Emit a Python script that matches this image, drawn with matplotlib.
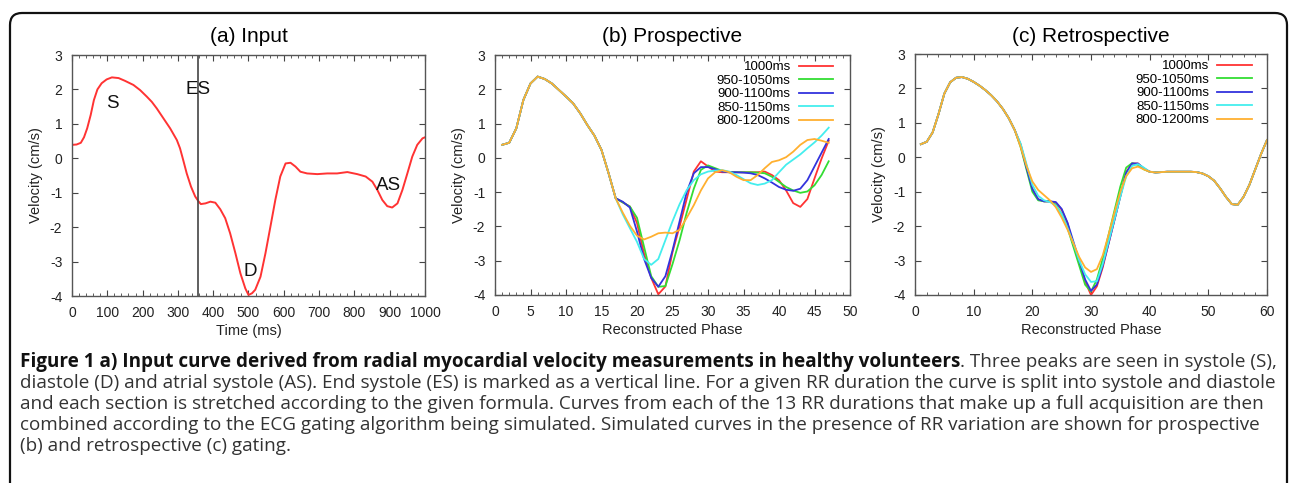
"""
Simulated radial myocardial velocity curves: input, prospective and retrospective gating.
"""

import matplotlib
matplotlib.use("Agg")
import matplotlib.pyplot as plt
from matplotlib.patches import FancyBboxPatch
from matplotlib.transforms import IdentityTransform
from matplotlib.ticker import MultipleLocator

plt.rcParams["font.family"] = ["Liberation Sans", "DejaVu Sans"]
plt.rcParams["axes.unicode_minus"] = False

# ---- (a) input curve -------------------------------------------------------
input_time = [0, 13, 25, 34, 43, 53, 62, 72, 84, 98, 113, 132, 150, 174, 193,
              212, 226, 240, 259, 278, 297, 306, 315, 325, 337, 349, 359, 365,
              378, 392, 406, 420, 434, 448, 463, 477, 491, 500, 510, 519, 534,
              548, 562, 576, 590, 605, 619, 633, 647, 666, 695, 723, 751, 780,
              808, 832, 851, 865, 879, 893, 907, 922, 936, 950, 964, 978, 993,
              1000]
input_vel = [0.39, 0.40, 0.45, 0.61, 0.87, 1.26, 1.69, 2.0, 2.18, 2.29, 2.35,
             2.33, 2.25, 2.13, 1.98, 1.79, 1.64, 1.45, 1.16, 0.87, 0.53, 0.29,
             -0.05, -0.44, -0.82, -1.11, -1.26, -1.33, -1.31, -1.26, -1.29,
             -1.48, -1.74, -2.18, -2.76, -3.34, -3.78, -3.97, -3.92, -3.82,
             -3.44, -2.76, -1.99, -1.21, -0.53, -0.15, -0.13, -0.24, -0.39,
             -0.44, -0.46, -0.44, -0.44, -0.40, -0.46, -0.53, -0.68, -0.92,
             -1.21, -1.39, -1.43, -1.31, -0.92, -0.44, 0.05, 0.39, 0.58, 0.61]
es_time = 358
peak_labels = ["S", "ES", "D", "AS"]
peak_x = [115, 358, 505, 898]
peak_y = [1.6, 2.0, -3.3, -0.78]

# ---- legend / colours ------------------------------------------------------
rr_labels = ["1000ms", "950-1050ms", "900-1100ms", "850-1150ms", "800-1200ms"]
rr_colors = ["#ff3333", "#33dd33", "#3333dd", "#44eeee", "#ffb030"]

# ---- (b) prospective: phases 1..47 -----------------------------------------
pro_phase = list(range(1, 48))
pro_head = [0.38, 0.44, 0.86, 1.69, 2.17, 2.37, 2.30, 2.17, 1.98, 1.79, 1.59,
            1.30, 0.96, 0.65, 0.23, -0.45]
pro_1000 = pro_head + [-1.18, -1.3, -1.42, -1.9, -2.8, -3.5, -3.98, -3.75, -2.75,
                       -2.0, -1.2, -0.4, -0.1, -0.25, -0.4, -0.42, -0.42, -0.42,
                       -0.42, -0.42, -0.42, -0.4, -0.5, -0.65, -0.95, -1.32,
                       -1.43, -1.2, -0.6, -0.02, 0.5]
pro_950 = pro_head + [-1.18, -1.3, -1.42, -1.75, -2.6, -3.45, -3.76, -3.74, -3.1,
                      -2.4, -1.6, -0.9, -0.35, -0.22, -0.3, -0.38, -0.42, -0.42,
                      -0.42, -0.42, -0.43, -0.45, -0.55, -0.7, -0.85, -0.95,
                      -1.02, -0.98, -0.8, -0.5, -0.1]
pro_900 = pro_head + [-1.18, -1.28, -1.45, -2.15, -2.95, -3.5, -3.76, -3.45, -2.7,
                      -1.85, -1.0, -0.45, -0.27, -0.27, -0.33, -0.4, -0.42, -0.42,
                      -0.43, -0.45, -0.5, -0.6, -0.72, -0.85, -0.93, -0.96, -0.9,
                      -0.65, -0.25, 0.15, 0.55]
pro_850 = pro_head + [-1.18, -1.65, -2.05, -2.45, -2.95, -3.12, -2.95, -2.4, -1.85,
                      -1.35, -0.94, -0.65, -0.48, -0.4, -0.37, -0.36, -0.4, -0.5,
                      -0.62, -0.74, -0.79, -0.75, -0.65, -0.42, -0.2, -0.05, 0.1,
                      0.28, 0.45, 0.65, 0.88]
pro_800 = pro_head + [-1.18, -1.6, -1.98, -2.27, -2.38, -2.3, -2.2, -2.18, -2.2,
                      -2.1, -1.75, -1.38, -0.95, -0.6, -0.42, -0.36, -0.42, -0.55,
                      -0.65, -0.65, -0.5, -0.3, -0.12, -0.07, 0.02, 0.18, 0.38,
                      0.52, 0.55, 0.5, 0.44]

# ---- (c) retrospective: phases 1..60 ---------------------------------------
retro_phase = list(range(1, 61))
retro_head = [0.38, 0.45, 0.72, 1.25, 1.85, 2.18, 2.31, 2.33, 2.28, 2.19, 2.08,
              1.95, 1.8, 1.62, 1.4, 1.13, 0.79]
retro_tail = [-0.42, -0.44, -0.43, -0.42, -0.42, -0.42, -0.42, -0.42, -0.43,
              -0.47, -0.55, -0.68, -0.9, -1.15, -1.36, -1.38, -1.15, -0.8, -0.35,
              0.1, 0.5]
retro_1000 = retro_head + [0.38, -0.25, -0.9, -1.22, -1.28, -1.28, -1.32, -1.52,
                           -1.92, -2.55, -3.05, -3.6, -4.0, -3.75, -3.2, -2.5,
                           -1.82, -1.13, -0.43, -0.18, -0.18, -0.33] + retro_tail
retro_950 = retro_head + [0.3, -0.35, -1.0, -1.25, -1.28, -1.28, -1.38, -1.65,
                          -2.05, -2.6, -3.15, -3.7, -3.9, -3.55, -2.95, -2.25,
                          -1.55, -0.85, -0.3, -0.17, -0.22, -0.35] + retro_tail
retro_900 = retro_head + [0.35, -0.3, -0.92, -1.22, -1.28, -1.28, -1.3, -1.5,
                          -1.9, -2.45, -3.0, -3.55, -3.88, -3.7, -3.15, -2.5,
                          -1.82, -1.13, -0.45, -0.18, -0.18, -0.32] + retro_tail
retro_850 = retro_head + [0.4, -0.2, -0.8, -1.12, -1.25, -1.3, -1.4, -1.65,
                          -2.05, -2.5, -3.0, -3.4, -3.62, -3.6, -3.1, -2.45,
                          -1.8, -1.15, -0.55, -0.25, -0.2, -0.3] + retro_tail
retro_800 = retro_head + [0.3, -0.25, -0.7, -0.95, -1.1, -1.25, -1.45, -1.75,
                          -2.1, -2.5, -2.9, -3.2, -3.33, -3.25, -2.85, -2.25,
                          -1.6, -1.0, -0.55, -0.32, -0.27, -0.35] + retro_tail

caption_bold = ("Figure 1 a) Input curve derived from radial myocardial velocity "
                "measurements in healthy volunteers")
caption_lines = [
    ". Three peaks are seen in systole (S),",
    "diastole (D) and atrial systole (AS). End systole (ES) is marked as a vertical "
    "line. For a given RR duration the curve is split into systole and diastole",
    "and each section is stretched according to the given formula. Curves from each "
    "of the 13 RR durations that make up a full acquisition are then",
    "combined according to the ECG gating algorithm being simulated. Simulated "
    "curves in the presence of RR variation are shown for prospective",
    "(b) and retrospective (c) gating.",
]

W, H = 1290, 483
fig = plt.figure(figsize=(W / 100, H / 100), dpi=100)


def px_axes(left, right, top, bottom):
    return fig.add_axes([left / W, 1 - bottom / H, (right - left) / W, (bottom - top) / H])


def style_axes(ax, xmax, xmajor, xminor, xlabel, title):
    ax.set_ylim(-4, 3)
    ax.set_xlim(0, xmax)
    ax.xaxis.set_major_locator(MultipleLocator(xmajor))
    ax.xaxis.set_minor_locator(MultipleLocator(xminor))
    ax.yaxis.set_major_locator(MultipleLocator(1))
    ax.tick_params(which="both", direction="in", top=True, right=True,
                   colors="#444444", labelcolor="#222222", labelsize=10, pad=7)
    ax.tick_params(which="major", length=4)
    ax.tick_params(which="minor", length=2)
    for sp in ax.spines.values():
        sp.set_color("#555555")
        sp.set_linewidth(1.0)
    ax.set_xlabel(xlabel, fontsize=10.5, color="#222222", labelpad=3)
    ax.set_ylabel("Velocity (cm/s)", fontsize=10.5, color="#222222", labelpad=5)
    ax.set_title(title, fontsize=15, pad=9)


# (a)
ax_a = px_axes(72, 425, 55, 296)
ax_a.plot(input_time, input_vel, color="#ff3333", lw=1.4)
ax_a.axvline(es_time, color="#444444", lw=1.2)
for lab, x, y in zip(peak_labels, peak_x, peak_y):
    ax_a.text(x, y, lab, fontsize=13.5, ha="center", va="center", color="#111111")
style_axes(ax_a, 1000, 100, 20, "Time (ms)", "(a) Input")

# (b)
ax_b = px_axes(495, 850, 55, 295)
for vals, col, lab in zip([pro_1000, pro_950, pro_900, pro_850, pro_800],
                          rr_colors, rr_labels):
    ax_b.plot(pro_phase, vals, color=col, lw=1.3, label=lab)
style_axes(ax_b, 50, 5, 1, "Reconstructed Phase", "(b) Prospective")

# (c)
ax_c = px_axes(915, 1267, 54, 295)
for vals, col, lab in zip([retro_1000, retro_950, retro_900, retro_850, retro_800],
                          rr_colors, rr_labels):
    ax_c.plot(retro_phase, vals, color=col, lw=1.3, label=lab)
style_axes(ax_c, 60, 10, 2, "Reconstructed Phase", "(c) Retrospective")

for ax, xa in ((ax_b, 0.952), (ax_c, 0.956)):
    ax.legend(loc="upper right", bbox_to_anchor=(xa, 0.975), frameon=False,
              markerfirst=False, fontsize=9.5, handlelength=2.6,
              labelspacing=0.1, borderaxespad=0.0, borderpad=0.0,
              handletextpad=0.6)

# rounded frame around the whole figure
frame = FancyBboxPatch((10, -30), 1277, H - 13 + 30,
                       boxstyle="round,pad=0,rounding_size=12",
                       transform=IdentityTransform(), fill=False,
                       edgecolor="#111111", lw=1.6)
fig.patches.append(frame)

# caption: font size fitted to the width of the original's second line
cap_font = ["Open Sans", "DejaVu Sans"]
cap_y = [362, 383, 404, 425, 446]
renderer = fig.canvas.get_renderer()
probe = fig.text(0, 0, caption_lines[1], family=cap_font, fontsize=10)
cap_size = 10 * 1258 / probe.get_window_extent(renderer).width
probe.remove()

t_bold = fig.text(20 / W, 1 - cap_y[0] / H, caption_bold, family=cap_font,
                  fontsize=cap_size, fontweight="bold", va="center", color="#111111")
bb = t_bold.get_window_extent(renderer)
fig.text(bb.x1 / W, 1 - cap_y[0] / H, caption_lines[0], family=cap_font,
         fontsize=cap_size, va="center", color="#333333")
for line, y in zip(caption_lines[1:], cap_y[1:]):
    fig.text(20 / W, 1 - y / H, line, family=cap_font, fontsize=cap_size,
             va="center", color="#333333")

fig.savefig("out.png", dpi=100)
